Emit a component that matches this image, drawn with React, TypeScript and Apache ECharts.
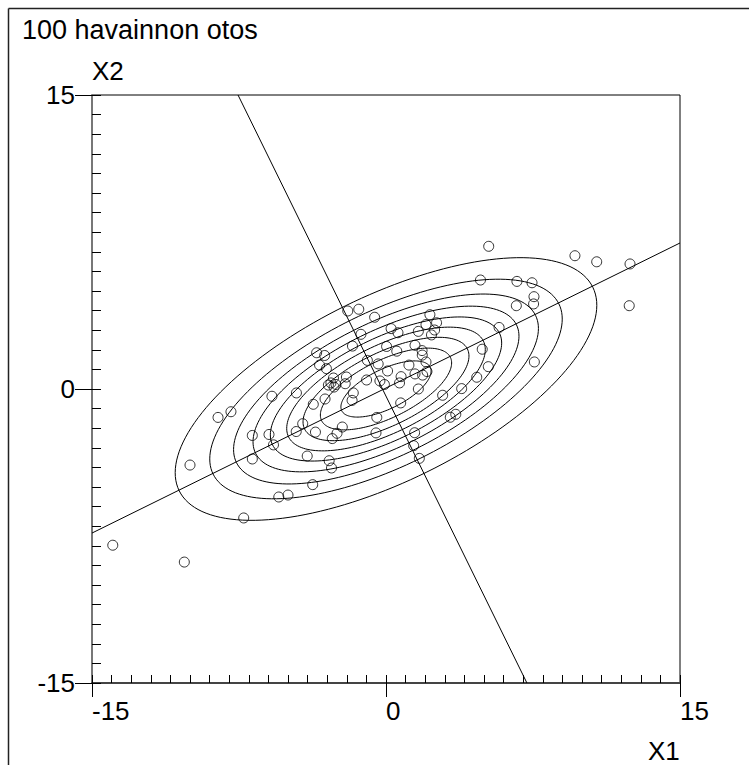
import React, { useEffect, useRef } from "react";
import * as echarts from "echarts";

const X1: number[] = [
  -13.94, -10.29, -10.0, -8.57, -7.91, -7.26, -6.82, -6.82, -5.97, -5.82,
  -5.74, -5.47, -5.0, -4.57, -4.58, -4.25, -4.02, -3.74, -3.71, -3.6,
  -3.54, -3.13, -3.39, -3.04, -3.11, -2.9, -2.78, -2.74, -2.5, -2.23,
  -2.68, -2.81, -2.55, -2.65, -2.94, -2.02, -2.08, -1.95, -1.39, -1.71,
  -1.67, -1.73, -1.28, -0.99, -0.95, -0.58, -0.47, -0.51, -0.4, -0.31,
  -0.08, 0.03, 0.08, 0.26, 0.61, 0.55, 0.77, 0.69, 0.75, 1.17,
  1.48, 1.46, 1.41, 1.7, 1.65, 1.65, 1.48, 1.87, 2.09, 1.84,
  1.85, 2.04, 2.04, 2.24, 2.58, 2.48, 2.32, 2.89, 3.28, 3.56,
  3.86, 4.63, 4.82, 4.91, 5.22, 5.24, 5.77, 6.65, 6.68, 7.45,
  7.55, 7.53, 7.57, 9.64, 10.75, 12.45, 12.41,
];
const X2: number[] = [
  -7.97, -8.83, -3.88, -1.45, -1.16, -6.58, -2.37, -3.57, -2.32, -0.37,
  -2.85, -5.51, -5.41, -0.2, -2.17, -1.77, -3.42, -4.88, -0.78, -2.2,
  1.85, 1.71, 1.22, 1.04, -0.51, -3.66, -4.03, -2.53, -2.26, -1.94,
  0.56, 0.31, 0.23, 0.1, 0.2, 0.61, 0.27, 3.98, 4.07, 2.19,
  -0.2, -0.58, 2.79, 0.46, 1.46, 3.66, -1.45, -2.24, 1.28, 0.41,
  0.23, 2.17, 0.92, 3.08, 2.87, 1.93, 0.63, 0.31, -0.71, 1.22,
  2.23, -2.23, -2.89, -3.54, 0.0, 2.94, 0.77, 0.71, 0.89, 1.96,
  1.73, 1.38, 3.29, 3.79, 3.38, 3.01, 2.76, -0.32, -1.44, -1.29,
  0.02, 0.6, 5.56, 2.03, 1.14, 7.28, 3.14, 4.25, 5.49, 5.42,
  4.71, 4.34, 1.38, 6.8, 6.49, 6.38, 4.25,
];

// Principal axes (end points in data units)
const majorAxis: number[][] = [[-15, -7.35], [15, 7.45]];
const minorAxis: number[][] = [[-7.55, 15], [7.19, -15]];

// Density model for the contour lines
const densityCenter = [0.0, 0.0];
const densityAngleDeg = 26.2;
const densitySigma = [5.48, 2.2];
const contourLevels: number[] = [0.1, 0.2, 0.3, 0.4, 0.5, 0.6, 0.7, 0.8, 0.9];

// Axis ticks
const axisMin = -15;
const axisMax = 15;
const majorStep = 15;
const minorStep = 1;

function contour(level: number): number[][] {
  const r = Math.sqrt(-2 * Math.log(level));
  const a = densitySigma[0] * r;
  const b = densitySigma[1] * r;
  const th = (densityAngleDeg * Math.PI) / 180;
  const out: number[][] = [];
  const n = 160;
  for (let i = 0; i <= n; i++) {
    const t = (2 * Math.PI * i) / n;
    const u = a * Math.cos(t);
    const v = b * Math.sin(t);
    out.push([
      densityCenter[0] + u * Math.cos(th) - v * Math.sin(th),
      densityCenter[1] + u * Math.sin(th) + v * Math.cos(th),
    ]);
  }
  return out;
}

const FONT = "'Liberation Sans', Arial, Helvetica, sans-serif";

export default function App() {
  const ref = useRef<HTMLDivElement>(null);
  useEffect(() => {
    if (!ref.current) return;
    const chart = echarts.init(ref.current, undefined, { renderer: "svg" });
    const points = X1.map((x, i) => [x, X2[i]]);
    const lineStyle = { color: "#000", width: 1 };
    const series: any[] = [];
    contourLevels.forEach((lv) => {
      series.push({
        type: "line",
        data: contour(lv),
        showSymbol: false,
        symbol: "none",
        lineStyle,
        silent: true,
        z: 2,
      });
    });
    series.push({ type: "line", data: majorAxis, symbol: "none", lineStyle, silent: true, z: 2 });
    series.push({ type: "line", data: minorAxis, symbol: "none", lineStyle, silent: true, z: 2 });
    series.push({
      type: "scatter",
      data: points,
      symbol: "circle",
      symbolSize: 10,
      itemStyle: { color: "rgba(0,0,0,0)", borderColor: "#000", borderWidth: 1 },
      z: 3,
    });

    const commonMinor = {
      min: axisMin,
      max: axisMax,
      interval: minorStep,
      axisLine: { show: false, onZero: false },
      axisLabel: { show: false },
      splitLine: { show: false },
    };

    chart.setOption({
      animation: false,
      backgroundColor: "#fff",
      grid: {
        left: 92,
        top: 95,
        width: 588,
        height: 588,
        show: true,
        borderColor: "#000",
        borderWidth: 1,
        backgroundColor: "transparent",
      },
      xAxis: [
        {
          type: "value",
          position: "bottom",
          min: axisMin,
          max: axisMax,
          interval: majorStep,
          axisLine: { show: true, onZero: false, lineStyle: { color: "#444", width: 2 } },
          axisTick: { show: true, inside: false, length: 14, lineStyle: { color: "#000", width: 1 } },
          axisLabel: {
            show: true,
            align: "left",
            margin: 15,
            fontSize: 26,
            color: "#000",
            fontFamily: FONT,
          },
          splitLine: { show: false },
        },
        {
          type: "value",
          position: "bottom",
          ...commonMinor,
          axisTick: { show: true, inside: true, length: 8, lineStyle: { color: "#000", width: 1 } },
        },
      ],
      yAxis: [
        {
          type: "value",
          position: "left",
          min: axisMin,
          max: axisMax,
          interval: majorStep,
          axisLine: { show: true, onZero: false, lineStyle: { color: "#777", width: 2 } },
          axisTick: { show: true, inside: false, length: 17, lineStyle: { color: "#000", width: 1 } },
          axisLabel: {
            show: true,
            margin: 17,
            fontSize: 26,
            color: "#000",
            fontFamily: FONT,
          },
          splitLine: { show: false },
        },
        {
          type: "value",
          position: "left",
          ...commonMinor,
          axisTick: { show: true, inside: true, length: 9, lineStyle: { color: "#000", width: 1 } },
        },
      ],
      graphic: [
        {
          type: "line",
          shape: { x1: 8.5, y1: 8.5, x2: 749, y2: 8.5 },
          style: { stroke: "#222", lineWidth: 1.5 },
        },
        {
          type: "line",
          shape: { x1: 8.5, y1: 8.5, x2: 8.5, y2: 765 },
          style: { stroke: "#222", lineWidth: 1.5 },
        },
        {
          type: "text",
          left: 22,
          top: 16,
          style: { text: "100 havainnon otos", fontSize: 27, fill: "#000", fontFamily: FONT },
        },
        {
          type: "text",
          left: 92,
          top: 58,
          style: { text: "X2", fontSize: 26, fill: "#000", fontFamily: FONT },
        },
        {
          type: "text",
          left: 648,
          top: 738,
          style: { text: "X1", fontSize: 26, fill: "#000", fontFamily: FONT },
        },
      ],
      series,
    });
    return () => chart.dispose();
  }, []);
  return (
    <div
      ref={ref}
      style={{ position: "absolute", left: 0, top: 0, width: 749, height: 765 }}
    />
  );
}
